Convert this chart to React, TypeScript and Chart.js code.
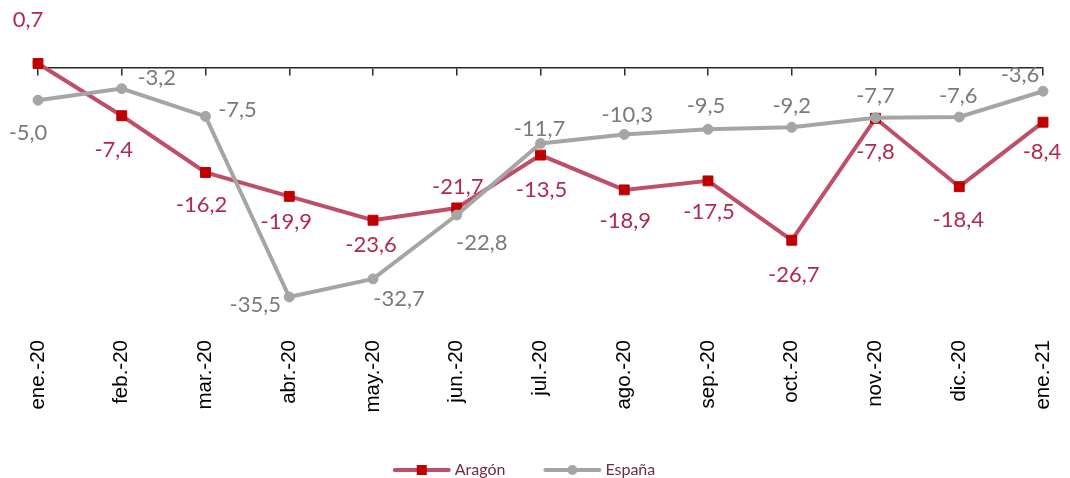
import React, { useEffect, useRef } from 'react';
import { Chart, registerables } from 'chart.js';

Chart.register(...registerables);

// ---- Data ----
const categories = ['ene.-20', 'feb.-20', 'mar.-20', 'abr.-20', 'may.-20', 'jun.-20', 'jul.-20', 'ago.-20', 'sep.-20', 'oct.-20', 'nov.-20', 'dic.-20', 'ene.-21'];
const aragonValues = [0.7, -7.4, -16.2, -19.9, -23.6, -21.7, -13.5, -18.9, -17.5, -26.7, -7.8, -18.4, -8.4];
const espanaValues = [-5.0, -3.2, -7.5, -35.5, -32.7, -22.8, -11.7, -10.3, -9.5, -9.2, -7.7, -7.6, -3.6];
const seriesNames = ['Aragón', 'España'];
const yMin = -40;
const yMax = 10;

// ---- Label placement (offset of label centre from its point) ----
const aragonLabelOffsets = [[-10, -44], [-8, 34], [-4, 32], [-3, 26], [-2, 25], [1, -21], [1, 35], [1, 31], [1, 31], [2, 35], [0, 34], [-1, 33], [-1, 30]];
const espanaLabelOffsets = [[-10, 33], [35, -11], [32, -6], [-34, 8], [26, 20], [25, 28], [-1, -15], [3, -20], [-2, -23], [0, -21], [0, -22], [-1, -21], [-23, -16]];

// ---- Styles ----
const ARAGON_LINE = '#BF4E68';
const ARAGON_MARK = '#C00000';
const ARAGON_TEXT = '#B12A4E';
const ESPANA_LINE = '#A5A5A5';
const ESPANA_TEXT = '#7A7A7A';
const LEGEND_TEXT = '#6B2D3F';
const AXIS_COLOR = '#262626';

const fmt = (v: number) => v.toFixed(1).replace('.', ',');

const zeroPadding = (s: any) => {
  s.paddingLeft = 0;
  s.paddingRight = 0;
  s.paddingTop = 0;
  s.paddingBottom = 0;
};

const valueLabelPlugin = {
  id: 'valueLabels',
  afterDatasetsDraw(chart: any) {
    const ctx = chart.ctx;
    ctx.save();
    ctx.font = '22px Lato';
    ctx.textAlign = 'center';
    ctx.textBaseline = 'middle';
    chart.data.datasets.forEach((ds: any, di: number) => {
      const meta = chart.getDatasetMeta(di);
      const offs = ds.labelOffsets as number[][];
      ctx.fillStyle = ds.labelColor;
      meta.data.forEach((pt: any, i: number) => {
        const v = ds.data[i];
        const [dx, dy] = offs[i];
        ctx.fillText(fmt(v), pt.x + dx, pt.y + dy);
      });
    });
    ctx.restore();
  },
};

const customLegendPlugin = {
  id: 'customLegend',
  afterDraw(chart: any) {
    const ctx = chart.ctx;
    ctx.save();
    ctx.font = '16px Lato';
    ctx.textBaseline = 'middle';
    const lineW = 54;
    const gapText = 6;
    const gapItems = 40;
    const w0 = ctx.measureText(seriesNames[0]).width;
    const w1 = ctx.measureText(seriesNames[1]).width;
    const total = lineW + gapText + w0 + gapItems + lineW + gapText + w1;
    const cx = chart.width / 2 - 10;
    const y = chart.height - 8;
    let x = cx - total / 2;
    // Aragón
    ctx.strokeStyle = ARAGON_LINE;
    ctx.lineWidth = 4;
    ctx.lineCap = 'round';
    ctx.beginPath();
    ctx.moveTo(x, y);
    ctx.lineTo(x + lineW, y);
    ctx.stroke();
    ctx.fillStyle = ARAGON_MARK;
    ctx.fillRect(x + lineW / 2 - 5, y - 5, 10, 10);
    ctx.fillStyle = LEGEND_TEXT;
    ctx.fillText(seriesNames[0], x + lineW + gapText, y);
    x += lineW + gapText + w0 + gapItems;
    // España
    ctx.strokeStyle = ESPANA_LINE;
    ctx.beginPath();
    ctx.moveTo(x, y);
    ctx.lineTo(x + lineW, y);
    ctx.stroke();
    ctx.fillStyle = ESPANA_LINE;
    ctx.beginPath();
    ctx.arc(x + lineW / 2, y, 5, 0, Math.PI * 2);
    ctx.fill();
    ctx.fillStyle = LEGEND_TEXT;
    ctx.fillText(seriesNames[1], x + lineW + gapText, y);
    ctx.restore();
  },
};

export default function App() {
  const canvasRef = useRef<HTMLCanvasElement | null>(null);

  useEffect(() => {
    document.body.style.margin = '0';
    const canvas = canvasRef.current;
    if (!canvas) return;
    const chart = new Chart(canvas, {
      type: 'line',
      data: {
        labels: categories,
        datasets: [
          {
            label: seriesNames[0],
            data: aragonValues,
            borderColor: ARAGON_LINE,
            borderWidth: 4,
            pointStyle: 'rect',
            pointRadius: 7,
            pointBackgroundColor: ARAGON_MARK,
            pointBorderColor: ARAGON_MARK,
            pointBorderWidth: 1,
            tension: 0,
            order: 1,
            labelOffsets: aragonLabelOffsets,
            labelColor: ARAGON_TEXT,
          } as any,
          {
            label: seriesNames[1],
            data: espanaValues,
            borderColor: ESPANA_LINE,
            borderWidth: 4,
            pointStyle: 'circle',
            pointRadius: 5,
            pointBackgroundColor: ESPANA_LINE,
            pointBorderColor: ESPANA_LINE,
            pointBorderWidth: 1,
            tension: 0,
            order: 0,
            labelOffsets: espanaLabelOffsets,
            labelColor: ESPANA_TEXT,
          } as any,
        ],
      },
      options: {
        responsive: false,
        animation: false,
        devicePixelRatio: 1,
        layout: { autoPadding: false, padding: { left: 38, right: 27, top: 3.5, bottom: 61 } },
        plugins: {
          legend: { display: false },
          tooltip: { enabled: false },
          title: { display: false },
        },
        scales: {
          x: {
            type: 'category',
            position: { y: 0 } as any,
            offset: false,
            grid: { display: true, drawOnChartArea: false, drawTicks: true, tickLength: 7, color: AXIS_COLOR, lineWidth: 1.5 },
            border: { display: true, color: AXIS_COLOR, width: 1.5 },
            ticks: { display: false },
            afterFit: zeroPadding,
          },
          x2: {
            type: 'category',
            position: 'bottom',
            offset: false,
            grid: { display: false, drawTicks: false },
            border: { display: false },
            ticks: {
              display: true,
              autoSkip: false,
              maxRotation: 90,
              minRotation: 90,
              padding: 14,
              color: '#000000',
              font: { family: 'Liberation Sans', size: 20.5 },
            },
            afterFit: (s: any) => {
              zeroPadding(s);
              s.height = 91;
            },
          },
          y: { display: false, min: yMin, max: yMax, afterFit: zeroPadding },
        },
      } as any,
      plugins: [valueLabelPlugin, customLegendPlugin],
    });
    return () => chart.destroy();
  }, []);

  return (
    <div style={{ width: 1070, height: 478 }}>
      <canvas ref={canvasRef} width={1070} height={478} style={{ display: 'block' }} />
    </div>
  );
}
